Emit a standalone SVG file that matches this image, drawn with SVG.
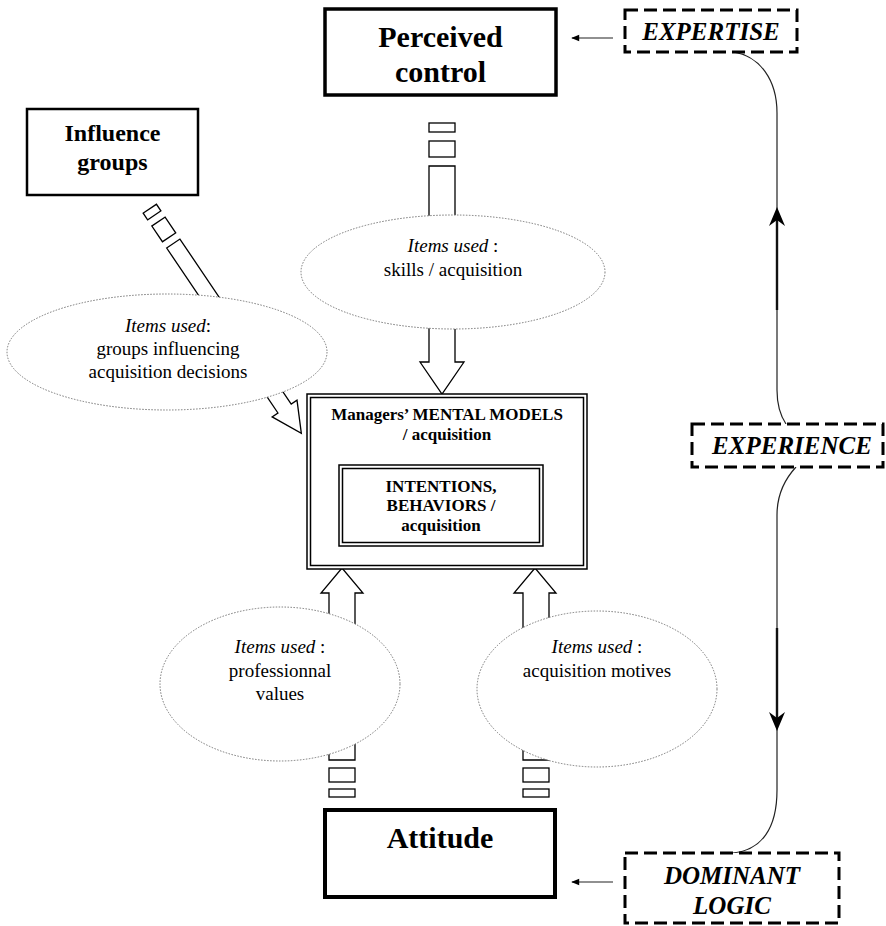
<svg xmlns="http://www.w3.org/2000/svg" width="886" height="926" viewBox="0 0 886 926">
<style>
text{font-family:"Liberation Serif","Times New Roman",serif;fill:#000;text-anchor:middle}
.big{font-size:30px;font-weight:bold}
.mid{font-size:24px;font-weight:bold}
.mm{font-size:17px;font-weight:bold}
.dash{font-size:25px;font-weight:bold;font-style:italic}
.el{font-size:19px}
.it{font-style:italic}
.box{fill:#fff;stroke:#000}
.dbox{fill:#fff;stroke:#000;stroke-width:3;stroke-dasharray:13 6}
.ell{fill:#fff;stroke:#777;stroke-width:1;stroke-dasharray:1.5 1.5}
.blk{fill:#fff;stroke:#000;stroke-width:1.3;stroke-linejoin:miter}
.thin{fill:none;stroke:#222;stroke-width:1.2}
.thick{fill:none;stroke:#111;stroke-width:2.4}
</style>
<defs>
<marker id="ah" viewBox="0 0 10 10" refX="9" refY="5" markerWidth="10" markerHeight="8" markerUnits="userSpaceOnUse" orient="auto">
<path d="M0,1 L10,5 L0,9 Z" fill="#000"/>
</marker>
</defs>

<g id="connectors">
  <!-- block arrow from Perceived control -->
  <g id="arrow-control">
    <rect class="blk" x="429" y="123" width="26" height="9"/>
    <rect class="blk" x="429" y="141" width="26" height="16"/>
    <path class="blk" d="M429,166 L455,166 L455,362 L464,362 L442,394 L420,362 L429,362 Z"/>
  </g>
  <!-- block arrow from Influence groups -->
  <g id="arrow-influence" transform="translate(149.8,208.7) rotate(-34)">
    <rect class="blk" x="-8" y="0" width="16" height="8"/>
    <rect class="blk" x="-8" y="15.5" width="16" height="19"/>
    <path class="blk" d="M-8,42 L8,42 L8,241 L15,241 L0,271 L-15,241 L-8,241 Z"/>
  </g>
  <!-- block arrows from Attitude -->
  <g id="arrow-values">
    <path class="blk" d="M329,760 L329,593 L321,593 L342,568 L363,593 L355,593 L355,760 Z"/>
    <rect class="blk" x="329" y="768" width="26" height="14"/>
    <rect class="blk" x="329" y="789" width="26" height="8"/>
  </g>
  <g id="arrow-motives">
    <path class="blk" d="M523,760 L523,593 L514,593 L535,568 L556,593 L549,593 L549,760 Z"/>
    <rect class="blk" x="523" y="768" width="26" height="14"/>
    <rect class="blk" x="523" y="789" width="26" height="8"/>
  </g>
  <!-- thin arrows -->
  <line class="thin" x1="613" y1="38" x2="572" y2="38" marker-end="url(#ah)"/>
  <line class="thin" x1="613" y1="882" x2="572" y2="882" marker-end="url(#ah)"/>
  <!-- right side loop -->
  <path class="thin" d="M733,52 C760,56 777,80 777,113 L777,390 C777,405 780,415 786,424"/>
  <line class="thick" x1="777" y1="214" x2="777" y2="310"/>
  <path d="M777,207 L769,226 L777,220 L785,226 Z" fill="#000"/>
  <path class="thin" d="M796,467 C784,480 777,495 777,515 L777,790 C777,828 762,850 733,853"/>
  <line class="thick" x1="777" y1="628" x2="777" y2="724"/>
  <path d="M777,731 L769,712 L777,718 L785,712 Z" fill="#000"/>
</g>

<g id="perceived-control">
  <rect class="box" x="325" y="9" width="231" height="86" stroke-width="3.5"/>
  <text class="big" x="440.5" y="47">Perceived</text>
  <text class="big" x="440.5" y="82">control</text>
</g>

<g id="expertise">
  <rect class="dbox" x="625" y="10" width="172" height="42"/>
  <text class="dash" x="711" y="40">EXPERTISE</text>
</g>

<g id="influence-groups">
  <rect class="box" x="27" y="109" width="171" height="86" stroke-width="2.5"/>
  <text class="mid" x="112.5" y="141">Influence</text>
  <text class="mid" x="112.5" y="170">groups</text>
</g>

<g id="items-skills">
  <ellipse class="ell" cx="453" cy="272" rx="152" ry="57"/>
  <text class="el" x="453" y="252"><tspan class="it">Items used</tspan> :</text>
  <text class="el" x="453" y="276">skills / acquisition</text>
</g>

<g id="items-groups">
  <ellipse class="ell" cx="167" cy="352" rx="160" ry="58"/>
  <text class="el" x="168" y="332"><tspan class="it">Items used</tspan>:</text>
  <text class="el" x="168" y="355">groups influencing</text>
  <text class="el" x="168" y="378">acquisition decisions</text>
</g>

<g id="mental-models">
  <rect x="307" y="394" width="280" height="175" fill="#fff" stroke="#000" stroke-width="1.5"/>
  <rect x="310.5" y="397.5" width="273" height="168" fill="none" stroke="#000" stroke-width="1.5"/>
  <text class="mm" x="447" y="420">Managers’ MENTAL MODELS</text>
  <text class="mm" x="447" y="440">/ acquisition</text>
</g>

<g id="intentions">
  <rect x="339" y="465" width="204" height="81" fill="#fff" stroke="#000" stroke-width="1.5"/>
  <rect x="342.5" y="468.5" width="197" height="74" fill="none" stroke="#000" stroke-width="1.5"/>
  <text class="mm" x="441" y="492">INTENTIONS,</text>
  <text class="mm" x="441" y="511">BEHAVIORS /</text>
  <text class="mm" x="441" y="531">acquisition</text>
</g>

<g id="experience">
  <rect class="dbox" x="692" y="424" width="191" height="43"/>
  <text class="dash" x="792" y="454">EXPERIENCE</text>
</g>

<g id="items-values">
  <ellipse class="ell" cx="280" cy="684" rx="120" ry="77"/>
  <text class="el" x="280" y="653"><tspan class="it">Items used</tspan> :</text>
  <text class="el" x="280" y="677">professionnal</text>
  <text class="el" x="280" y="700">values</text>
</g>

<g id="items-motives">
  <ellipse class="ell" cx="597" cy="689" rx="120" ry="78"/>
  <text class="el" x="597" y="653"><tspan class="it">Items used</tspan> :</text>
  <text class="el" x="597" y="677">acquisition motives</text>
</g>

<g id="attitude">
  <rect class="box" x="325" y="810" width="230" height="87" stroke-width="4"/>
  <text class="big" x="440" y="848">Attitude</text>
</g>

<g id="dominant-logic">
  <rect class="dbox" x="625" y="853" width="214" height="70"/>
  <text class="dash" x="732" y="884">DOMINANT</text>
  <text class="dash" x="732" y="914">LOGIC</text>
</g>
</svg>
